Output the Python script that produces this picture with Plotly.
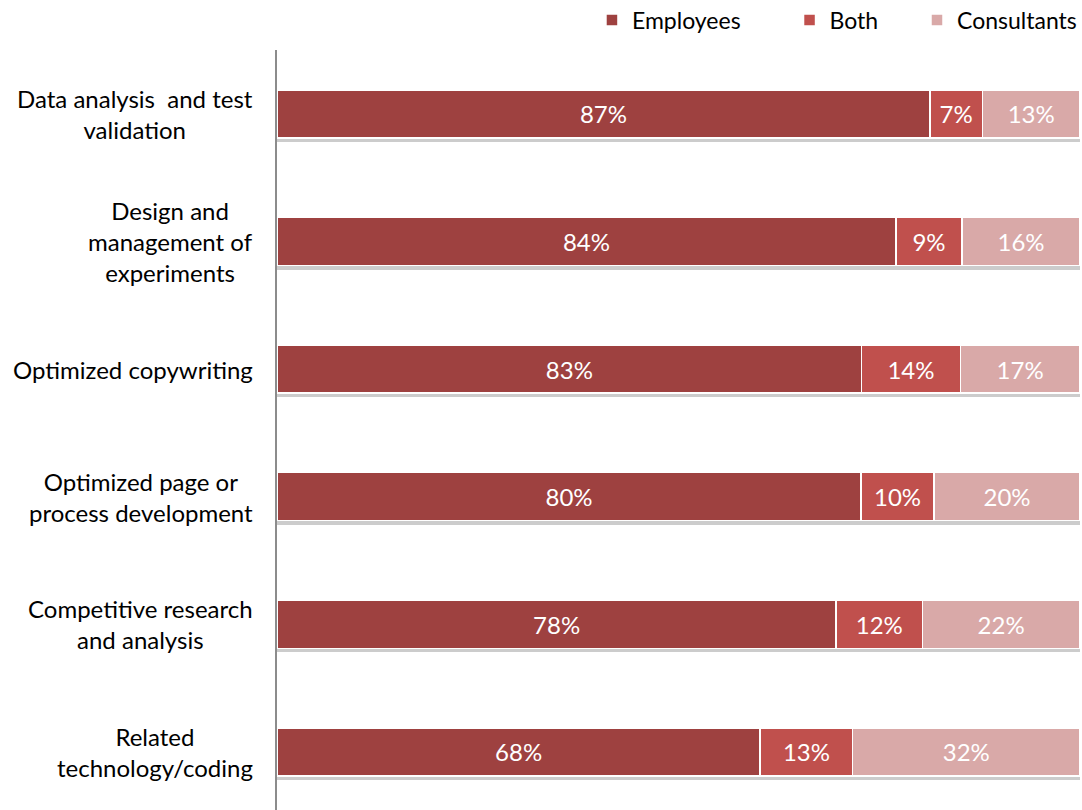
import plotly.graph_objects as go

categories = [
    "Data analysis  and test<br>validation",
    "Design and<br>management of<br>experiments",
    "Optimized copywriting",
    "Optimized page or<br>process development",
    "Competitive research<br>and analysis",
    "Related<br>technology/coding",
]
employees = [87, 84, 83, 80, 78, 68]
both = [7, 9, 14, 10, 12, 13]
consultants = [13, 16, 17, 20, 22, 32]

series = [
    ("Employees", employees, "#9E4140", "legend", 0.5471),
    ("Both", both, "#C0504D", "legend2", 0.7297),
    ("Consultants", consultants, "#D9A9A8", "legend3", 0.8475),
]

FONT = "Lato"
fig = go.Figure()

# soft drop shadow behind each stacked bar (drawn on base y axis)
totals = [e + b + c for e, b, c in zip(employees, both, consultants)]
fig.add_trace(go.Bar(
    y=categories, x=totals, orientation="h", yaxis="y",
    marker=dict(color="rgba(0,0,0,0.2)", line=dict(width=0)),
    showlegend=False, hoverinfo="skip",
))

for name, vals, color, leg, lx in series:
    fig.add_trace(go.Bar(
        y=categories, x=vals, name=name, orientation="h", yaxis="y2",
        legend=leg,
        marker=dict(color=color, line=dict(color="white", width=1.5)),
        text=[f"{v}%" for v in vals], textposition="inside",
        insidetextanchor="middle", constraintext="none",
        textfont=dict(color="white", size=24, family=FONT),
        hoverinfo="skip",
    ))

for c in categories:
    fig.add_annotation(
        x=0, xref="paper", y=c, yref="y2", xanchor="right", xshift=-22,
        text=c, showarrow=False, align="center",
        font=dict(size=24, color="black", family=FONT),
    )

legend_common = dict(orientation="h", xanchor="left", xref="container",
                     yref="container", y=1 - 20 / 810, yanchor="middle",
                     font=dict(size=23, family=FONT, color="black"),
                     bgcolor="rgba(0,0,0,0)")
leg_layout = {}
for name, vals, color, leg, lx in series:
    leg_layout[leg] = dict(x=lx, **legend_common)

shift = 0.032
fig.update_layout(
    width=1082, height=810,
    barmode="stack", barnorm="percent", bargap=0.624,
    plot_bgcolor="white", paper_bgcolor="white",
    margin=dict(l=277, r=2, t=50, b=0, autoexpand=False),
    font=dict(family=FONT, size=24, color="black"),
    showlegend=True,
    xaxis=dict(range=[0, 100], showticklabels=False, showgrid=False,
               zeroline=False, showline=False, fixedrange=True),
    yaxis=dict(range=[5.455 - shift, -0.5 - shift], showticklabels=False, showgrid=False,
               zeroline=False, showline=False, ticks=""),
    yaxis2=dict(range=[5.455, -0.5], overlaying="y", showticklabels=False, showgrid=False,
                zeroline=False, showline=True, linecolor="#8C8C8C", linewidth=2,
                ticks="", side="left"),
    **leg_layout,
)

fig.write_html(
    "out.html",
    config={"displayModeBar": False},
    post_script="document.body.style.margin='0px';document.body.style.overflow='hidden';",
)
